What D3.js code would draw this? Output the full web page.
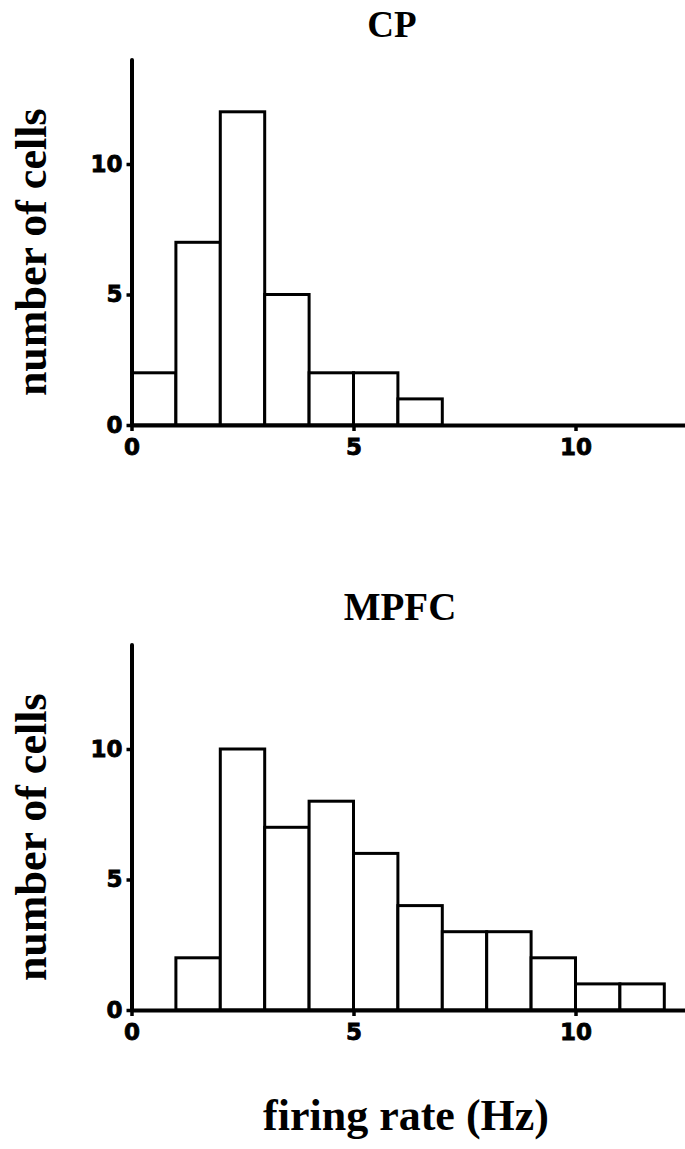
<!DOCTYPE html>
<html>
<head>
<meta charset="utf-8">
<script src="https://cdn.jsdelivr.net/npm/d3@7"></script>
<style>
  html, body { margin: 0; padding: 0; background: #fff; }
  svg { display: block; }
</style>
</head>
<body>
<svg id="chart" width="685" height="1149"></svg>
<script>
// Histogram bins (lower edge, Hz) and cell counts
const cpBinStarts = [0, 1, 2, 3, 4, 5, 6];
const cpCounts = [2, 7, 12, 5, 2, 2, 1];
const mpfcBinStarts = [1, 2, 3, 4, 5, 6, 7, 8, 9, 10, 11];
const mpfcCounts = [2, 10, 7, 8, 6, 4, 3, 3, 2, 1, 1];
const binWidth = 1;

const xTicks = [0, 5, 10];
const yTicks = [0, 5, 10];

const panelTitles = ["CP", "MPFC"];
const yLabel = "number of cells";
const xLabel = "firing rate (Hz)";

const svg = d3.select("#chart");
const serif = "'Liberation Serif', 'Times New Roman', serif";
const sans = "'DejaVu Sans', Verdana, sans-serif";

const x = d3.scaleLinear().domain([0, 12.6]).range([131.5, 131.5 + 12.6 * 44.4]);

function panel(binStarts, counts, title, y0, titleX, titleY, titleSize) {
  const y = d3.scaleLinear().domain([0, 14]).range([y0, y0 - 14 * 26.1]);
  const g = svg.append("g");

  // bars
  g.selectAll("rect.bar")
    .data(binStarts.map((b, i) => ({ b, c: counts[i] })))
    .join("rect")
    .attr("class", "bar")
    .attr("x", d => x(d.b))
    .attr("y", d => y(d.c))
    .attr("width", d => x(d.b + binWidth) - x(d.b))
    .attr("height", d => y(0) - y(d.c))
    .attr("fill", "#fff")
    .attr("stroke", "#000")
    .attr("stroke-width", 3);

  // x axis
  const xa = g.append("g")
    .attr("transform", `translate(0,${y(0)})`)
    .call(d3.axisBottom(x).tickValues(xTicks).tickSizeInner(6).tickSizeOuter(0).tickPadding(8));
  // y axis
  const ya = g.append("g")
    .attr("transform", `translate(${x(0)},0)`)
    .call(d3.axisLeft(y).tickValues(yTicks).tickSizeInner(5).tickSizeOuter(0).tickPadding(4));

  [xa, ya].forEach(a => {
    a.select(".domain").attr("stroke", "#000").attr("stroke-width", 4).attr("stroke-linecap", "round");
    a.selectAll(".tick line").attr("stroke", "#000").attr("stroke-width", 3.5);
    a.selectAll(".tick text")
      .attr("fill", "#000")
      .attr("stroke", "#000")
      .attr("stroke-width", 0.8)
      .style("font-family", sans)
      .style("font-weight", "bold")
      .style("font-size", "23px");
  });

  // panel title
  g.append("text")
    .attr("x", titleX)
    .attr("y", titleY)
    .attr("text-anchor", "middle")
    .style("font-family", serif)
    .style("font-weight", "bold")
    .style("font-size", titleSize + "px")
    .text(title);

  // y axis label
  g.append("text")
    .attr("transform", `translate(46,${(y(0) + y(14)) / 2 + 10}) rotate(-90)`)
    .attr("text-anchor", "middle")
    .style("font-family", serif)
    .style("font-weight", "bold")
    .style("font-size", "44px")
    .text(yLabel);
}

panel(cpBinStarts, cpCounts, panelTitles[0], 425, 392, 37, 37);
panel(mpfcBinStarts, mpfcCounts, panelTitles[1], 1010, 400, 620, 39);

svg.append("text")
  .attr("x", 406)
  .attr("y", 1130)
  .attr("text-anchor", "middle")
  .style("font-family", serif)
  .style("font-weight", "bold")
  .style("font-size", "44px")
  .text(xLabel);
</script>
</body>
</html>
